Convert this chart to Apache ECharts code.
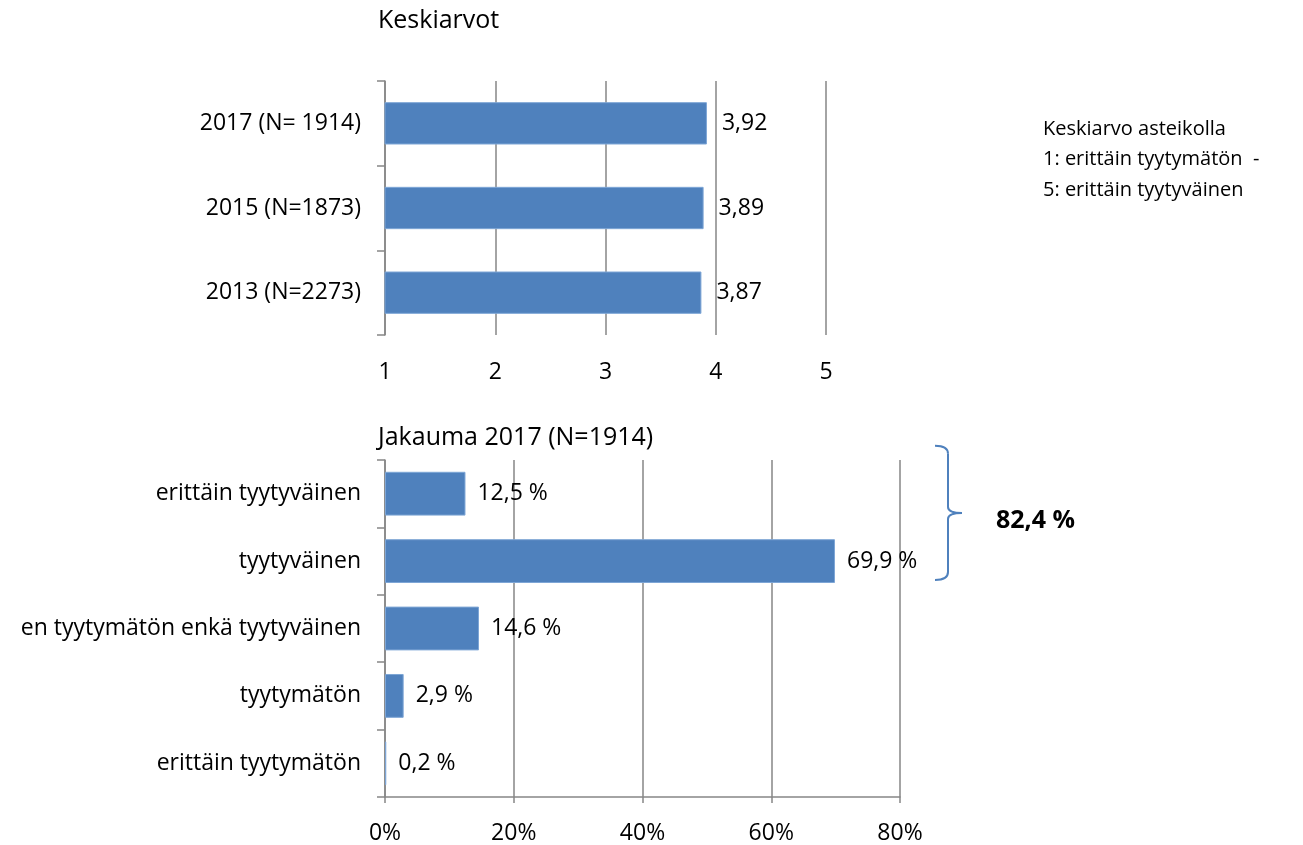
<!DOCTYPE html>
<html>
<head>
<meta charset="utf-8">
<script src="https://cdn.jsdelivr.net/npm/echarts@6/dist/echarts.min.js"></script>
<style>
  html, body { margin: 0; padding: 0; background: #fff; }
  #chart { width: 1303px; height: 845px; }
</style>
</head>
<body>
<div id="chart"></div>
<script>
// keskiarvot
const yearLabels = ['2017 (N= 1914)', '2015 (N=1873)', '2013 (N=2273)']
const meanValues = [3.92, 3.89, 3.87]
const meanTicks = [1, 2, 3, 4, 5]

// jakauma 2017
const answerLabels = ['erittäin tyytyväinen', 'tyytyväinen', 'en tyytymätön enkä tyytyväinen', 'tyytymätön', 'erittäin tyytymätön']
const shareValues = [12.5, 69.9, 14.6, 2.9, 0.2]
const shareTicks = [0, 20, 40, 60, 80]

const FONT = '"Open Sans", Lato, sans-serif'
const BLUE = '#4f81bd'
const GRID_GRAY = '#868686'
const FS = 23

const chart = echarts.init(document.getElementById('chart'))

const fmt = (v, d) => v.toFixed(d).replace('.', ',')
const positiveShare = shareValues[0] + shareValues[1]

const option = {
  animation: false,
  textStyle: { fontFamily: FONT, color: '#000' },
  grid: [
    { left: 385, top: 81, width: 441, height: 254 },
    { left: 385, top: 460, width: 515, height: 340 },
  ],
  xAxis: [
    {
      type: 'value', gridIndex: 0,
      min: meanTicks[0], max: meanTicks[meanTicks.length - 1], interval: 1,
      axisLine: { show: false },
      axisTick: { show: false },
      axisLabel: { fontSize: FS, color: '#000', margin: 26, fontFamily: FONT },
      splitLine: { show: true, lineStyle: { color: GRID_GRAY, width: 1.5 } },
    },
    {
      type: 'value', gridIndex: 1,
      min: shareTicks[0], max: shareTicks[shareTicks.length - 1], interval: 20,
      axisLine: { show: true, lineStyle: { color: GRID_GRAY, width: 1.5 } },
      axisTick: { show: true, length: 6, lineStyle: { color: GRID_GRAY, width: 1.5 } },
      axisLabel: { fontSize: FS, color: '#000', margin: 25, fontFamily: FONT, formatter: '{value}%' },
      splitLine: { show: true, lineStyle: { color: GRID_GRAY, width: 1.5 } },
    },
  ],
  yAxis: [
    {
      type: 'category', gridIndex: 0, inverse: true, data: yearLabels,
      axisLine: { show: true, lineStyle: { color: GRID_GRAY, width: 1.5 } },
      axisTick: { show: true, length: 8, lineStyle: { color: GRID_GRAY, width: 1.5 } },
      axisLabel: { fontSize: FS, color: '#000', margin: 24, fontFamily: FONT },
    },
    {
      type: 'category', gridIndex: 1, inverse: true, data: answerLabels,
      axisLine: { show: true, lineStyle: { color: GRID_GRAY, width: 1.5 } },
      axisTick: { show: true, length: 8, lineStyle: { color: GRID_GRAY, width: 1.5 } },
      axisLabel: { fontSize: FS, color: '#000', margin: 24, fontFamily: FONT },
    },
  ],
  title: [
    { text: 'Keskiarvot', left: 373, top: 3, textStyle: { fontSize: 25, fontWeight: 'normal', fontFamily: FONT, color: '#000' } },
    { text: 'Jakauma 2017 (N=1914)', left: 373, top: 420, textStyle: { fontSize: 25, fontWeight: 'normal', fontFamily: FONT, color: '#000' } },
    {
      text: 'Keskiarvo asteikolla\n1: erittäin tyytymätön  -\n5: erittäin tyytyväinen',
      left: 1038, top: 109,
      textStyle: { fontSize: 20, fontWeight: 'normal', fontFamily: FONT, color: '#000', lineHeight: 30.5 },
    },
  ],
  series: [
    {
      type: 'bar', xAxisIndex: 0, yAxisIndex: 0,
      data: meanValues,
      barCategoryGap: '50%',
      itemStyle: { color: BLUE, borderColor: '#7ea6d6', borderWidth: 1 },
      label: {
        show: true, position: 'right', distance: 15,
        fontSize: FS, color: '#000', fontFamily: FONT,
        formatter: p => fmt(p.value, 2),
      },
    },
    {
      type: 'bar', xAxisIndex: 1, yAxisIndex: 1,
      data: shareValues,
      barCategoryGap: '35%',
      itemStyle: { color: BLUE, borderColor: '#7ea6d6', borderWidth: 1 },
      label: {
        show: true, position: 'right', distance: 12,
        fontSize: FS, color: '#000', fontFamily: FONT,
        formatter: p => fmt(p.value, 1) + ' %',
      },
    },
  ],
}

chart.setOption(option)

// aaltosulje kahden ylimmän vastausluokan kohdalle
function drawBrace() {
  const yTop = chart.convertToPixel({ gridIndex: 1 }, [0, 0])[1] - 48
  const yBot = chart.convertToPixel({ gridIndex: 1 }, [0, 1])[1] + 19
  const yMid = (yTop + yBot) / 2
  const x0 = 935, x1 = 948, xt = 962
  const stroke = { stroke: BLUE, lineWidth: 2, fill: null }
  const curve = (ax, ay, cx, cy, bx, by) => ({
    type: 'bezierCurve',
    shape: { x1: ax, y1: ay, cpx1: cx, cpy1: cy, x2: bx, y2: by },
    style: stroke,
  })
  const line = (ax, ay, bx, by) => ({ type: 'line', shape: { x1: ax, y1: ay, x2: bx, y2: by }, style: stroke })
  const label = fmt(positiveShare, 1)
  chart.setOption({
    graphic: [
      curve(x0, yTop, x1, yTop, x1, yTop + 8),
      line(x1, yTop + 8, x1, yMid - 6),
      curve(x1, yMid - 6, x1, yMid, xt, yMid),
      curve(xt, yMid, x1, yMid, x1, yMid + 6),
      line(x1, yMid + 6, x1, yBot - 8),
      curve(x1, yBot - 8, x1, yBot, x0, yBot),
      {
        type: 'text', left: 996, top: yMid - 5,
        style: {
          text: '{a|' + label.slice(0, 1) + '}{b|' + label.slice(1) + ' %}',
          rich: {
            a: { fontSize: 25, fontWeight: 'bold', fontFamily: FONT, color: '#404040' },
            b: { fontSize: 25, fontWeight: 'bold', fontFamily: FONT, color: '#000' },
          },
        },
      },
    ],
  })
}
drawBrace()

window.addEventListener('resize', () => chart.resize())
</script>
</body>
</html>
